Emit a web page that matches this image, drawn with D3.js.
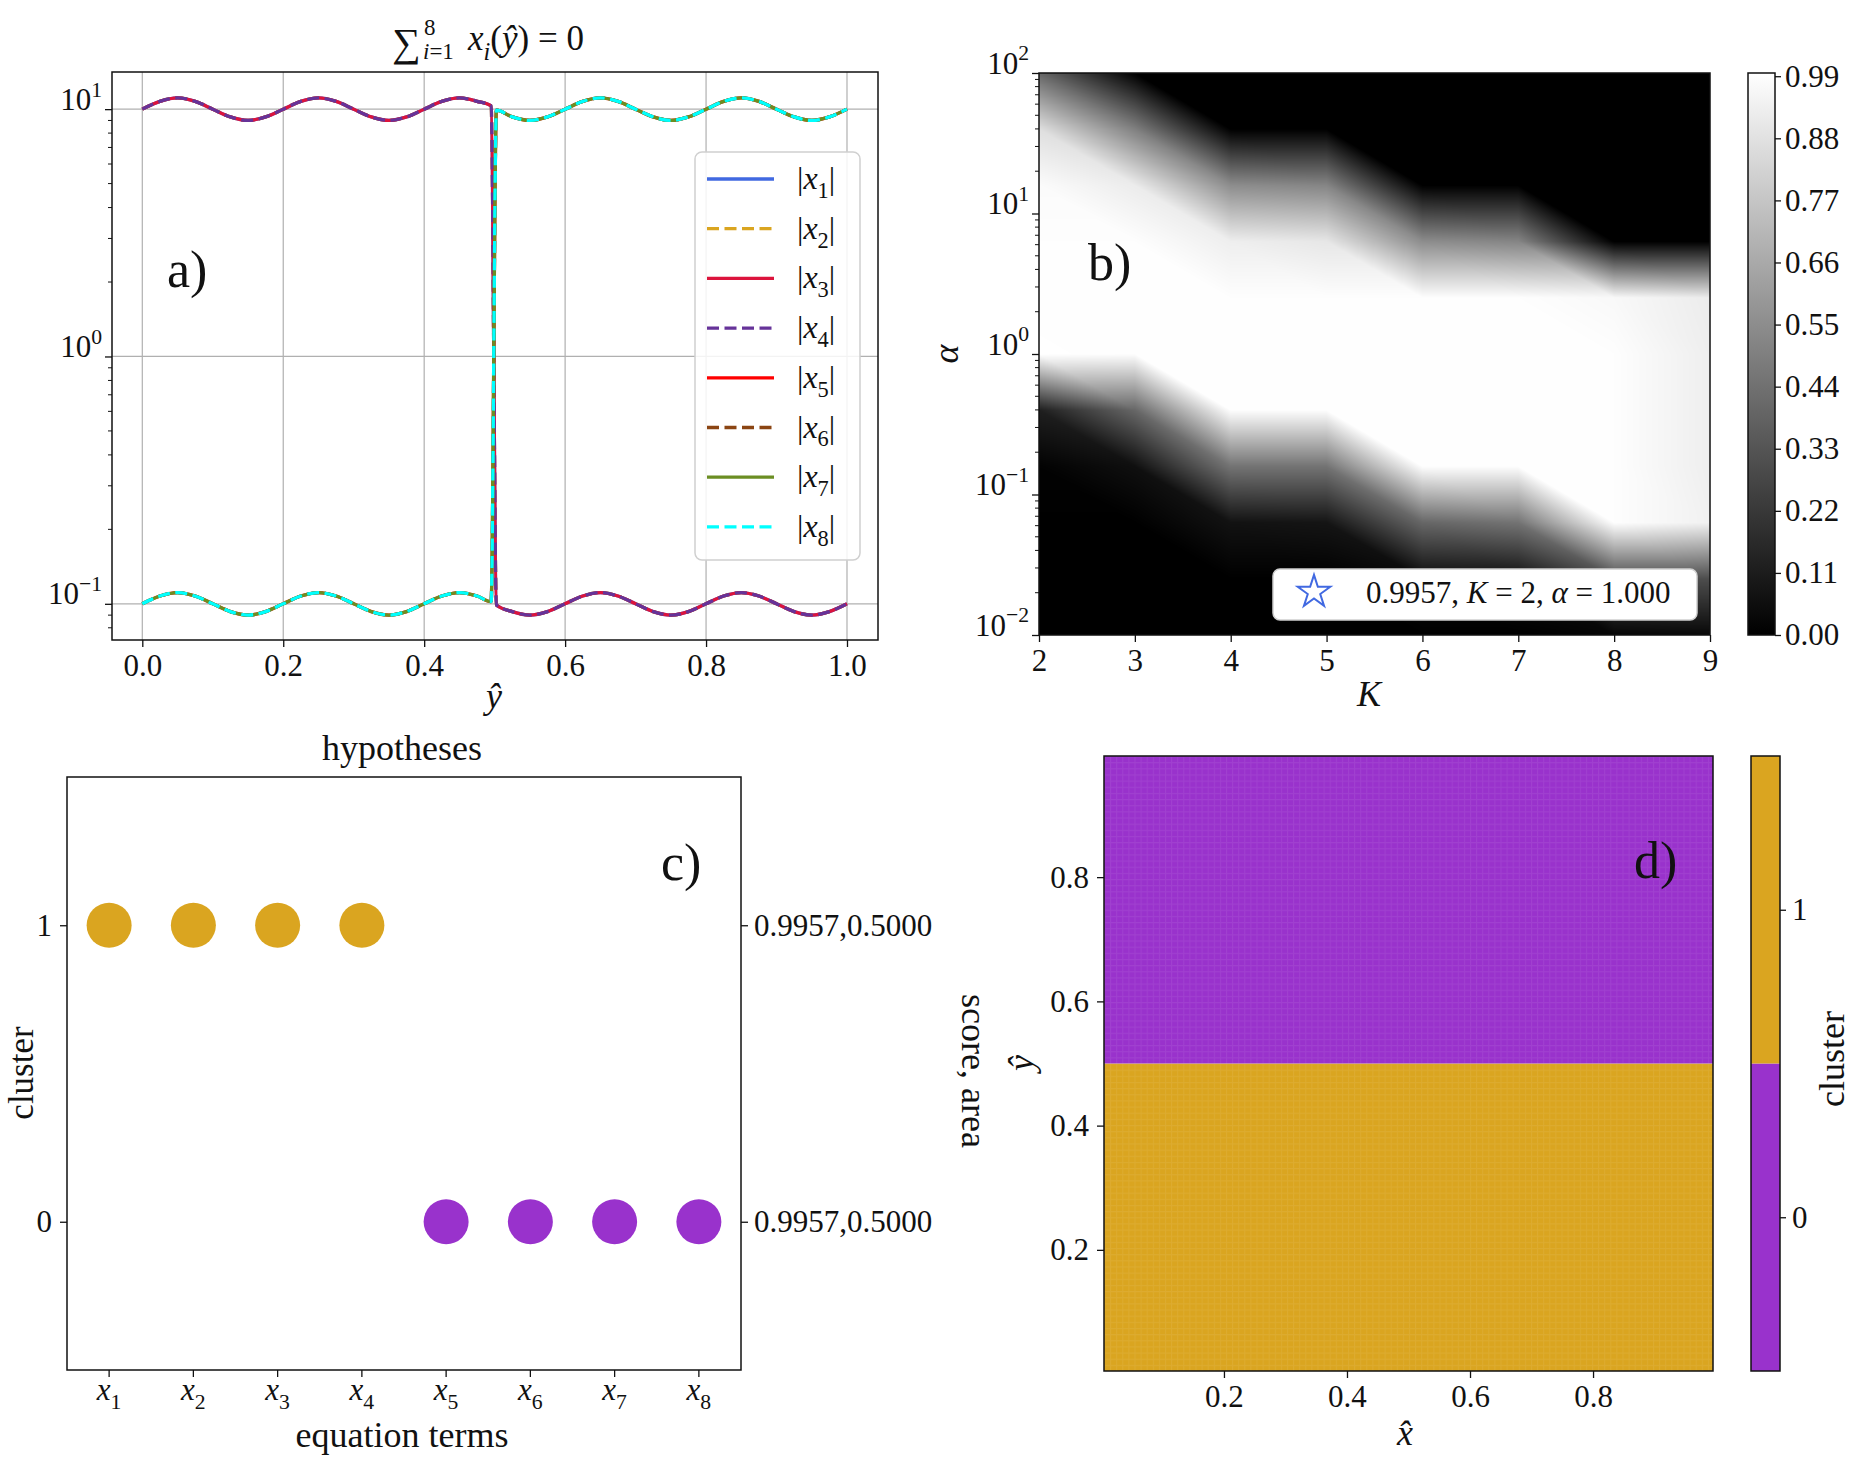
<!DOCTYPE html>
<html>
<head>
<meta charset="utf-8">
<script src="https://cdn.jsdelivr.net/npm/d3@7"></script>
<style>
  body { margin: 0; background: #fff; }
  svg text { font-family: "Liberation Serif", "DejaVu Serif", serif; fill: #111; }
</style>
</head>
<body>
<svg id="fig" width="1874" height="1476"></svg>
<script>
// ---------- panel a data: |x_i| against y-hat ----------
const yHat = [0, 0.025, 0.05, 0.075, 0.1, 0.125, 0.15, 0.175, 0.2, 0.225, 0.25, 0.275,
  0.3, 0.325, 0.35, 0.375, 0.4, 0.425, 0.45, 0.475, 0.495, 0.5025, 0.525, 0.55, 0.575,
  0.6, 0.625, 0.65, 0.675, 0.7, 0.725, 0.75, 0.775, 0.8, 0.825, 0.85, 0.875, 0.9, 0.925,
  0.95, 0.975, 1.0];
// x1..x4 (high first, low after the switch)
const termsHighFirst = [10.0, 10.75, 11.1, 10.75, 10.0, 9.3, 9.0, 9.3, 10.0, 10.75, 11.1, 10.75,
  10.0, 9.3, 9.0, 9.3, 10.0, 10.75, 11.1, 10.75, 10.3, 0.099, 0.093, 0.090, 0.093,
  0.100, 0.1075, 0.111, 0.1075, 0.100, 0.093, 0.090, 0.093, 0.100, 0.1075, 0.111, 0.1075, 0.100, 0.093,
  0.090, 0.093, 0.100];
// x5..x8 (low first, high after the switch)
const termsLowFirst = [0.100, 0.1075, 0.111, 0.1075, 0.100, 0.093, 0.090, 0.093, 0.100, 0.1075, 0.111, 0.1075,
  0.100, 0.093, 0.090, 0.093, 0.100, 0.1075, 0.111, 0.1075, 0.102, 9.9, 9.3, 9.0, 9.3,
  10.0, 10.75, 11.1, 10.75, 10.0, 9.3, 9.0, 9.3, 10.0, 10.75, 11.1, 10.75, 10.0, 9.3,
  9.0, 9.3, 10.0];
const termIndex = ["1", "2", "3", "4", "5", "6", "7", "8"];
const termColors = ["#4169E1", "#DAA520", "#DC143C", "#663399", "#FF0000", "#8B4513", "#6B8E23", "#00FFFF"];
const termDashed = [false, true, false, true, false, true, false, true];
const termSeries = [termsHighFirst, termsHighFirst, termsHighFirst, termsHighFirst,
  termsLowFirst, termsLowFirst, termsLowFirst, termsLowFirst];
const aXTicks = [0, 0.2, 0.4, 0.6, 0.8, 1.0];
const aYTicks = [0.1, 1, 10];
const aYMinor = [0.08, 0.09, 0.2, 0.3, 0.4, 0.5, 0.6, 0.7, 0.8, 0.9, 2, 3, 4, 5, 6, 7, 8, 9];

// ---------- panel b data: score over (K, alpha) ----------
const kValues = [2, 3, 4, 5, 6, 7, 8, 9];
const alphaExp = [2.0, 1.6, 1.2, 0.8, 0.4, 0.0, -0.4, -0.8, -1.2, -1.6, -2.0];
const scoreGrid = [
  [0.40, 0.00, 0.00, 0.00, 0.00, 0.00, 0.00, 0.00],
  [0.87, 0.50, 0.00, 0.00, 0.00, 0.00, 0.00, 0.00],
  [0.98, 0.92, 0.55, 0.52, 0.00, 0.00, 0.00, 0.00],
  [0.99, 0.99, 0.93, 0.90, 0.55, 0.52, 0.00, 0.00],
  [0.99, 0.99, 0.99, 0.99, 0.99, 0.99, 0.97, 0.92],
  [0.9957, 0.99, 0.99, 0.99, 0.99, 0.99, 0.99, 0.93],
  [0.12, 0.40, 0.99, 0.99, 0.99, 0.99, 0.99, 0.93],
  [0.01, 0.06, 0.45, 0.45, 0.99, 0.99, 0.99, 0.93],
  [0.00, 0.00, 0.07, 0.08, 0.40, 0.45, 0.99, 0.94],
  [0.00, 0.00, 0.00, 0.00, 0.04, 0.06, 0.30, 0.30],
  [0.00, 0.00, 0.00, 0.00, 0.00, 0.00, 0.02, 0.03]
];
const bestScore = 0.9957, bestK = 2, bestAlpha = 1.0;
const bAlphaTicks = [0.01, 0.1, 1, 10, 100];
const bAlphaMinor = [0.02, 0.03, 0.04, 0.05, 0.06, 0.07, 0.08, 0.09, 0.2, 0.3, 0.4, 0.5, 0.6, 0.7, 0.8, 0.9,
  2, 3, 4, 5, 6, 7, 8, 9, 20, 30, 40, 50, 60, 70, 80, 90];
const bCbarTicks = [0, 0.11, 0.22, 0.33, 0.44, 0.55, 0.66, 0.77, 0.88, 0.99];

// ---------- panel c data: cluster per equation term ----------
const termCluster = [1, 1, 1, 1, 0, 0, 0, 0];
const clusterIds = [0, 1];
const clusterScoreArea = ["0.9957,0.5000", "0.9957,0.5000"];
const clusterColors = ["#9932CC", "#DAA520"];

// ---------- panel d data: cluster map over (x-hat, y-hat) ----------
const dExtent = [0.005, 0.995];
const dBandEdges = [0.005, 0.5, 0.995];
const dBandCluster = [1, 0];
const dTicks = [0.2, 0.4, 0.6, 0.8];

// ---------- helpers ----------
const svg = d3.select("#fig");
const SERIF = '"Liberation Serif", "DejaVu Serif", serif';
const TICK = 31, LABEL = 36, PANEL = 52;
const defs = svg.append("defs");

function mathText(sel, parts, size) {
  let shift = 0;
  sel.attr("font-family", SERIF);
  parts.forEach(p => {
    const target = p.sub ? size * 0.28 : p.sup ? -size * 0.42 : 0;
    const ts = sel.append("tspan").attr("dy", target - shift).text(p.t);
    shift = target;
    if (p.i) ts.attr("font-style", "italic");
    if (p.sub || p.sup) ts.attr("font-size", size * 0.7);
  });
}
function powParts(v) {
  const e = Math.round(Math.log10(v));
  return [{ t: "10" }, { t: (e < 0 ? "\u2212" : "") + Math.abs(e), sup: true }];
}
function styleAxis(g, size) {
  g.attr("font-family", SERIF).attr("font-size", null);
  g.select(".domain").remove();
  g.selectAll(".tick line").attr("stroke", "#111").attr("stroke-width", 1.3);
  g.selectAll(".tick text").attr("fill", "#111").attr("font-family", SERIF).attr("font-size", size || TICK);
}
function frame(box) {
  svg.append("rect").attr("x", box.x0).attr("y", box.y0)
    .attr("width", box.x1 - box.x0).attr("height", box.y1 - box.y0)
    .attr("fill", "none").attr("stroke", "#111").attr("stroke-width", 1.5);
}
function clip(id, box) {
  defs.append("clipPath").attr("id", id).append("rect")
    .attr("x", box.x0).attr("y", box.y0).attr("width", box.x1 - box.x0).attr("height", box.y1 - box.y0);
}
function label(x, y, parts, size, rot, anchor) {
  const t = svg.append("text").attr("font-size", size).attr("text-anchor", anchor || "middle")
    .attr("transform", `translate(${x},${y})` + (rot ? ` rotate(${rot})` : ""));
  mathText(t, parts, size);
  return t;
}

// =================== panel a ===================
const A = { x0: 112, x1: 878, y0: 72, y1: 640 };
const xA = d3.scaleLinear().domain([-0.043, 1.044]).range([A.x0, A.x1]);
const yA = d3.scaleLog().domain([0.0714, 14.13]).range([A.y1, A.y0]);
clip("clipA", A);

const gridA = svg.append("g").attr("stroke", "#b0b0b0").attr("stroke-width", 1.2);
gridA.selectAll("line.gx").data(aXTicks).join("line")
  .attr("x1", d => xA(d)).attr("x2", d => xA(d)).attr("y1", A.y0).attr("y2", A.y1);
gridA.selectAll("line.gy").data(aYTicks).join("line")
  .attr("y1", d => yA(d)).attr("y2", d => yA(d)).attr("x1", A.x0).attr("x2", A.x1);

const lineA = d3.line().x(d => xA(d[0])).y(d => yA(d[1])).curve(d3.curveMonotoneX);
svg.append("g").attr("clip-path", "url(#clipA)")
  .selectAll("path").data(termSeries).join("path")
  .attr("d", s => lineA(yHat.map((y, i) => [y, s[i]])))
  .attr("fill", "none")
  .attr("stroke", (s, i) => termColors[i])
  .attr("stroke-width", 3.3)
  .attr("stroke-dasharray", (s, i) => termDashed[i] ? "12,5.5" : null);

const axAx = svg.append("g").attr("transform", `translate(0,${A.y1})`)
  .call(d3.axisBottom(xA).tickValues(aXTicks).tickFormat(d3.format(".1f")).tickSize(7).tickPadding(7));
styleAxis(axAx);
const axAy = svg.append("g").attr("transform", `translate(${A.x0},0)`)
  .call(d3.axisLeft(yA).tickValues(aYTicks).tickSize(7).tickPadding(3).tickFormat(""));
styleAxis(axAy);
axAy.selectAll(".tick text").each(function (d) { mathText(d3.select(this), powParts(d), TICK); });
svg.append("g").selectAll("line").data(aYMinor).join("line")
  .attr("x1", A.x0 - 4).attr("x2", A.x0).attr("y1", d => yA(d)).attr("y2", d => yA(d))
  .attr("stroke", "#111").attr("stroke-width", 1);
frame(A);

// legend a
const legA = svg.append("g");
legA.append("rect").attr("x", 695).attr("y", 152).attr("width", 165).attr("height", 408)
  .attr("rx", 7).attr("fill", "#fff").attr("fill-opacity", 0.85).attr("stroke", "#d0d0d0").attr("stroke-width", 1.5);
termIndex.forEach((n, i) => {
  const y = 179 + i * 49.7;
  legA.append("line").attr("x1", 707).attr("x2", 774).attr("y1", y).attr("y2", y)
    .attr("stroke", termColors[i]).attr("stroke-width", 3.3)
    .attr("stroke-dasharray", termDashed[i] ? "12,5.5" : null);
  const t = legA.append("text").attr("x", 797).attr("y", y + 10).attr("font-size", 32);
  mathText(t, [{ t: "|" }, { t: "x", i: true }, { t: n, sub: true }, { t: "|" }], 32);
});

// title a
svg.append("text").attr("x", 392).attr("y", 56).attr("font-size", 40).attr("font-family", SERIF).text("\u2211");
svg.append("text").attr("x", 424).attr("y", 35).attr("font-size", 23).attr("font-family", SERIF).text("8");
const tSub = svg.append("text").attr("x", 423).attr("y", 59).attr("font-size", 23);
mathText(tSub, [{ t: "i", i: true }, { t: "=1" }], 23);
const tMain = svg.append("text").attr("x", 468).attr("y", 50).attr("font-size", 35);
mathText(tMain, [{ t: "x", i: true }, { t: "i", i: true, sub: true }, { t: "(" }, { t: "\u0177", i: true }, { t: ") = 0" }], 35);

label(494, 708, [{ t: "\u0177", i: true }], LABEL);
label(167, 287, [{ t: "a)" }], PANEL, 0, "start");

// =================== panel b ===================
const B = { x0: 1039, x1: 1710, y0: 73, y1: 635 };
const xB = d3.scaleLinear().domain([kValues[0], kValues[kValues.length - 1]]).range([B.x0, B.x1]);
const yB = d3.scaleLog().domain([0.01, 100]).range([B.y1, B.y0]);
const grayB = d3.scaleLinear().domain([0, bestScore]).range(["#000000", "#ffffff"]).clamp(true);
clip("clipB", B);

(function drawHeat() {
  const w = Math.round(B.x1 - B.x0), h = Math.round(B.y1 - B.y0);
  const cvs = document.createElement("canvas");
  cvs.width = w; cvs.height = h;
  const ctx = cvs.getContext("2d");
  const img = ctx.createImageData(w, h);
  const nk = kValues.length, na = alphaExp.length;
  for (let py = 0; py < h; py++) {
    const la = Math.log10(yB.invert(B.y0 + py + 0.5));
    const fj = (alphaExp[0] - la) / (alphaExp[0] - alphaExp[1]);
    const j = Math.min(Math.max(Math.floor(fj), 0), na - 2);
    const v = Math.min(Math.max(fj - j, 0), 1);
    for (let px = 0; px < w; px++) {
      const k = xB.invert(B.x0 + px + 0.5);
      const fi = (k - kValues[0]) / (kValues[1] - kValues[0]);
      const i = Math.min(Math.max(Math.floor(fi), 0), nk - 2);
      const u = Math.min(Math.max(fi - i, 0), 1);
      const TL = scoreGrid[j][i], TR = scoreGrid[j][i + 1], BL = scoreGrid[j + 1][i], BR = scoreGrid[j + 1][i + 1];
      // two triangles per cell, split along the top-left / bottom-right diagonal
      const val = u >= v ? TL * (1 - u) + TR * (u - v) + BR * v : TL * (1 - v) + BL * (v - u) + BR * u;
      const c = d3.rgb(grayB(val));
      const o = (py * w + px) * 4;
      img.data[o] = c.r; img.data[o + 1] = c.g; img.data[o + 2] = c.b; img.data[o + 3] = 255;
    }
  }
  ctx.putImageData(img, 0, 0);
  svg.append("image").attr("x", B.x0).attr("y", B.y0).attr("width", w).attr("height", h)
    .attr("preserveAspectRatio", "none").attr("href", cvs.toDataURL());
})();

const starB = d3.symbol(d3.symbolStar).size(330);
svg.append("path").attr("clip-path", "url(#clipB)").attr("d", starB())
  .attr("transform", `translate(${xB(bestK)},${yB(bestAlpha)})`)
  .attr("fill", "none").attr("stroke", "#4169E1").attr("stroke-width", 2);

const axBx = svg.append("g").attr("transform", `translate(0,${B.y1})`)
  .call(d3.axisBottom(xB).tickValues(kValues).tickFormat(d3.format("d")).tickSize(7).tickPadding(7));
styleAxis(axBx);
const axBy = svg.append("g").attr("transform", `translate(${B.x0},0)`)
  .call(d3.axisLeft(yB).tickValues(bAlphaTicks).tickSize(7).tickPadding(3).tickFormat(""));
styleAxis(axBy);
axBy.selectAll(".tick text").each(function (d) { mathText(d3.select(this), powParts(d), TICK); });
svg.append("g").selectAll("line").data(bAlphaMinor).join("line")
  .attr("x1", B.x0 - 4).attr("x2", B.x0).attr("y1", d => yB(d)).attr("y2", d => yB(d))
  .attr("stroke", "#111").attr("stroke-width", 1);
frame(B);

// legend b
const legB = svg.append("g");
legB.append("rect").attr("x", 1273).attr("y", 569).attr("width", 424).attr("height", 51)
  .attr("rx", 7).attr("fill", "#fff").attr("stroke", "#d0d0d0").attr("stroke-width", 1.5);
legB.append("path").attr("d", starB()).attr("transform", "translate(1314,592)")
  .attr("fill", "none").attr("stroke", "#4169E1").attr("stroke-width", 2);
const tLegB = legB.append("text").attr("x", 1366).attr("y", 603).attr("font-size", 31);
mathText(tLegB, [{ t: d3.format(".4f")(bestScore) + ", " }, { t: "K", i: true }, { t: " = " + bestK + ", " },
  { t: "\u03b1", i: true }, { t: " = " + d3.format(".3f")(bestAlpha) }], 31);

// colorbar b
const CB = { x0: 1748, x1: 1775, y0: 73, y1: 635 };
const cbScaleB = d3.scaleLinear().domain([0, bestScore]).range([CB.y1, CB.y0]);
const gradB = defs.append("linearGradient").attr("id", "gradB").attr("x1", 0).attr("x2", 0).attr("y1", 1).attr("y2", 0);
gradB.selectAll("stop").data([0, bestScore]).join("stop")
  .attr("offset", d => d / bestScore).attr("stop-color", d => grayB(d));
svg.append("rect").attr("x", CB.x0).attr("y", CB.y0).attr("width", CB.x1 - CB.x0).attr("height", CB.y1 - CB.y0)
  .attr("fill", "url(#gradB)");
const axCB = svg.append("g").attr("transform", `translate(${CB.x1},0)`)
  .call(d3.axisRight(cbScaleB).tickValues(bCbarTicks).tickFormat(d3.format(".2f")).tickSize(6).tickPadding(4));
styleAxis(axCB);
frame(CB);

label(1088, 280, [{ t: "b)" }], PANEL, 0, "start");
label(1369, 706, [{ t: "K", i: true }], LABEL);
label(958, 354, [{ t: "\u03b1", i: true }], LABEL, -90);

// =================== panel c ===================
const C = { x0: 67, x1: 741, y0: 777, y1: 1370 };
const xC = d3.scaleBand().domain(termIndex).range([C.x0, C.x1]);
const yC = d3.scaleLinear().domain([-0.5, 1.5]).range([C.y1, C.y0]);

svg.append("g").selectAll("circle").data(termIndex).join("circle")
  .attr("cx", d => xC(d) + xC.bandwidth() / 2)
  .attr("cy", (d, i) => yC(termCluster[i]))
  .attr("r", 22.5)
  .attr("fill", (d, i) => clusterColors[termCluster[i]]);

const axCx = svg.append("g").attr("transform", `translate(0,${C.y1})`)
  .call(d3.axisBottom(xC).tickSize(7).tickPadding(7).tickFormat(""));
styleAxis(axCx);
axCx.selectAll(".tick text").attr("dy", null).attr("y", 30)
  .each(function (d) { mathText(d3.select(this), [{ t: "x", i: true }, { t: d, sub: true }], TICK); });
const axCy = svg.append("g").attr("transform", `translate(${C.x0},0)`)
  .call(d3.axisLeft(yC).tickValues(clusterIds).tickFormat(d3.format("d")).tickSize(7).tickPadding(8));
styleAxis(axCy);
const axCr = svg.append("g").attr("transform", `translate(${C.x1},0)`)
  .call(d3.axisRight(yC).tickValues(clusterIds).tickFormat(d => clusterScoreArea[d]).tickSize(7).tickPadding(6));
styleAxis(axCr);
frame(C);

label(402, 760, [{ t: "hypotheses" }], LABEL);
label(402, 1447, [{ t: "equation terms" }], LABEL);
label(33, 1073, [{ t: "cluster" }], 35, -90);
label(962, 1071, [{ t: "score, area" }], LABEL, 90);
label(661, 880, [{ t: "c)" }], PANEL, 0, "start");

// =================== panel d ===================
const D = { x0: 1104, x1: 1713, y0: 756, y1: 1371 };
const xD = d3.scaleLinear().domain(dExtent).range([D.x0, D.x1]);
const yD = d3.scaleLinear().domain(dExtent).range([D.y1, D.y0]);

svg.append("g").selectAll("rect").data(dBandCluster).join("rect")
  .attr("x", xD(dExtent[0])).attr("width", xD(dExtent[1]) - xD(dExtent[0]))
  .attr("y", (c, i) => yD(dBandEdges[i + 1])).attr("height", (c, i) => yD(dBandEdges[i]) - yD(dBandEdges[i + 1]))
  .attr("fill", c => clusterColors[c]);
const mesh = defs.append("pattern").attr("id", "mesh").attr("patternUnits", "userSpaceOnUse")
  .attr("x", D.x0).attr("y", D.y0).attr("width", 6.1).attr("height", 6.15);
mesh.append("path").attr("d", "M0,0.5H6.1M0.5,0V6.15").attr("stroke", "#fff")
  .attr("stroke-opacity", 0.07).attr("stroke-width", 1);
svg.append("rect").attr("x", D.x0).attr("y", D.y0).attr("width", D.x1 - D.x0).attr("height", D.y1 - D.y0)
  .attr("fill", "url(#mesh)");

const axDx = svg.append("g").attr("transform", `translate(0,${D.y1})`)
  .call(d3.axisBottom(xD).tickValues(dTicks).tickFormat(d3.format(".1f")).tickSize(7).tickPadding(7));
styleAxis(axDx);
const axDy = svg.append("g").attr("transform", `translate(${D.x0},0)`)
  .call(d3.axisLeft(yD).tickValues(dTicks).tickFormat(d3.format(".1f")).tickSize(7).tickPadding(8));
styleAxis(axDy);
frame(D);

// colorbar d
const CD = { x0: 1751, x1: 1780, y0: 756, y1: 1371 };
const cbScaleD = d3.scaleLinear().domain([-0.5, 1.5]).range([CD.y1, CD.y0]);
svg.append("g").selectAll("rect").data(clusterIds).join("rect")
  .attr("x", CD.x0).attr("width", CD.x1 - CD.x0)
  .attr("y", c => cbScaleD(c + 0.5)).attr("height", c => cbScaleD(c - 0.5) - cbScaleD(c + 0.5))
  .attr("fill", c => clusterColors[c]);
const axCD = svg.append("g").attr("transform", `translate(${CD.x1},0)`)
  .call(d3.axisRight(cbScaleD).tickValues(clusterIds).tickFormat(d3.format("d")).tickSize(6).tickPadding(6));
styleAxis(axCD);
frame(CD);

label(1405, 1445, [{ t: "x\u0302", i: true }], LABEL);
label(1033, 1063, [{ t: "\u0177", i: true }], LABEL, -90);
label(1844, 1059, [{ t: "cluster" }], LABEL, -90);
label(1634, 878, [{ t: "d)" }], PANEL, 0, "start");
</script>
</body>
</html>
